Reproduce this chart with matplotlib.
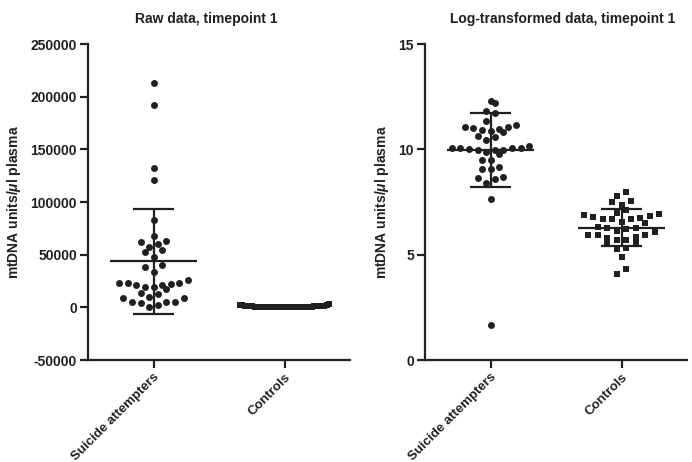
import numpy as np
import matplotlib
matplotlib.use("Agg")
import matplotlib.pyplot as plt

plt.rcParams['font.family'] = ['Liberation Sans', 'DejaVu Sans']
plt.rcParams['font.weight'] = 'bold'
plt.rcParams['axes.unicode_minus'] = False
plt.rcParams['mathtext.fontset'] = 'custom'
plt.rcParams['mathtext.rm'] = 'Liberation Sans:bold'
plt.rcParams['mathtext.it'] = 'Liberation Sans:bold:italic'

groups = ["Suicide attempters", "Controls"]

# raw mtDNA units/ul plasma, timepoint 1
raw_attempters = [213300, 192400, 132000, 120900, 82900, 67700, 62000, 63300, 59800,
                  57600, 54400, 52200, 47500, 40200, 38000, 33900, 22200, 20900, 23400,
                  19600, 23400, 23400, 26300, 17100, 19600, 20900, 13300, 12700, 9500,
                  8500, 8500, 5400, 4400, 5400, 5400, 2200, 5]
raw_controls = [2890, 2400, 1920, 1590, 1790, 1220, 1030, 925, 835, 786, 700, 786, 812,
                898, 982, 1054, 556, 518, 454, 442, 493, 518, 652, 384, 369, 327, 296,
                255, 262, 296, 344, 376, 196, 206, 130, 77, 60]

# log-transformed values
log_attempters = [12.29, 12.19, 11.80, 11.72, 11.14, 10.93, 11.04, 10.80, 10.98, 10.99,
                  11.06, 10.87, 11.36, 10.57, 10.46, 10.62, 10.08, 10.08, 9.95, 9.95,
                  9.79, 9.89, 9.95, 10.02, 10.05, 10.08, 10.17, 9.48, 9.51, 9.07, 9.07,
                  9.16, 8.66, 8.41, 8.60, 8.69, 7.65, 1.66]
log_controls = [7.97, 7.78, 7.56, 7.37, 7.49, 7.11, 6.94, 6.83, 6.73, 6.67, 6.55, 6.67,
                6.70, 6.80, 6.89, 6.96, 6.32, 6.25, 6.12, 6.09, 6.20, 6.25, 6.48, 5.95,
                5.91, 5.79, 5.69, 5.54, 5.57, 5.69, 5.84, 5.93, 5.28, 5.33, 4.87, 4.34,
                4.09]

ink = '#231f20'


def scatter_offsets(vals, row_h, dx, max_half=0.34):
    # Prism-style column scatter: values within row_h form one row,
    # each row is spread sideways around the group centre
    vals = np.asarray(vals, dtype=float)
    order = np.argsort(vals)
    rows, cur = [], [order[0]]
    for i in order[1:]:
        if vals[i] - vals[cur[0]] < row_h:
            cur.append(i)
        else:
            rows.append(cur)
            cur = [i]
    rows.append(cur)
    offs = np.zeros(len(vals))
    for r in rows:
        k = len(r)
        step = dx if (k - 1) * dx <= 2 * max_half else 2 * max_half / (k - 1)
        slots = (np.arange(k) - (k - 1) / 2) * step
        # alternate the sorted values left/right of centre
        seq = sorted(slots, key=lambda s: (abs(s), s))
        for n, i in enumerate(r):
            offs[i] = seq[n]
    return offs


def panel(ax, att, ctl, row_h, title, title_x, ylim, yticks):
    for i, (vals, mk, dx) in enumerate([(att, 'o', 0.066), (ctl, 's', 0.072)]):
        x = i + scatter_offsets(vals, row_h, dx)
        ax.scatter(x, vals, s=5.0 ** 2, marker=mk, color=ink, linewidths=0,
                   zorder=3, clip_on=False)
        m = np.mean(vals)
        sd = np.std(vals, ddof=1)
        ax.hlines(m, i - 0.33, i + 0.33, color=ink, lw=1.6, zorder=5)
        ax.hlines([m - sd, m + sd], i - 0.16, i + 0.16, color=ink, lw=1.6, zorder=5)
        ax.vlines(i, m - sd, m + sd, color=ink, lw=1.6, zorder=5)
    ax.set_xlim(-0.5, 1.5)
    ax.set_ylim(*ylim)
    ax.set_yticks(yticks)
    ax.spines['top'].set_visible(False)
    ax.spines['right'].set_visible(False)
    for s in ['left', 'bottom']:
        ax.spines[s].set_linewidth(1.6)
        ax.spines[s].set_color(ink)
    ax.tick_params(axis='both', length=6, width=1.6, color=ink, labelsize=10, pad=2,
                   labelcolor=ink)
    ax.set_xticks([0, 1])
    ax.set_xticklabels(groups, rotation=45, ha='right', rotation_mode='anchor',
                       fontweight='bold', fontsize=9.5)
    for lbl in ax.get_yticklabels():
        lbl.set_fontweight('bold')
    ax.set_ylabel(r"mtDNA units/$\mu$l plasma", fontsize=10, fontweight='bold',
                  labelpad=5, color=ink)
    ax.set_title(title, fontsize=10, fontweight='bold', x=title_x, pad=15, color=ink)


fig = plt.figure(figsize=(6.92, 4.62), dpi=100)
ax1 = fig.add_axes([88 / 692, 1 - 360 / 462, 262 / 692, 316 / 462])
ax2 = fig.add_axes([425 / 692, 1 - 360 / 462, 262 / 692, 316 / 462])

panel(ax1, raw_attempters, raw_controls, 9000, "Raw data, timepoint 1", 0.45,
      (-50000, 250000), np.arange(-50000, 250001, 50000))
panel(ax2, log_attempters, log_controls, 0.40, "Log-transformed data, timepoint 1", 0.525,
      (0, 15), [0, 5, 10, 15])

fig.savefig("out.png", dpi=100)
